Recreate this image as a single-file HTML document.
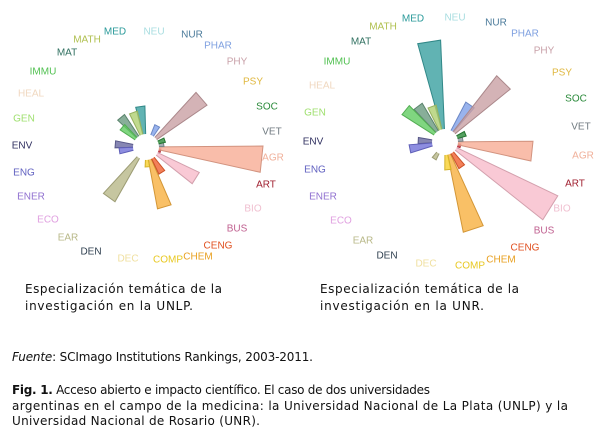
<!DOCTYPE html>
<html><head><meta charset="utf-8"><style>
body{margin:0;background:#fff;width:602px;height:430px;overflow:hidden}
svg{display:block}
.l{font-family:"Liberation Sans",sans-serif;font-size:10px;text-anchor:middle;dominant-baseline:middle}
.t{font-family:"DejaVu Sans",sans-serif;font-size:12px;fill:#111}
</style></head><body>
<svg id="s" width="602" height="430" xmlns="http://www.w3.org/2000/svg">
<g id="g"></g>
<text class="t" x="25" y="293" textLength="197">Especialización temática de la</text>
<text class="t" x="25" y="310" textLength="168">investigación en la UNLP.</text>
<text class="t" x="320" y="293" textLength="199">Especialización temática de la</text>
<text class="t" x="320" y="310" textLength="164">investigación en la UNR.</text>
<text class="t" x="12" y="361" textLength="301"><tspan font-style="italic">Fuente</tspan>: SCImago Institutions Rankings, 2003-2011.</text>
<text class="t" x="12" y="394" textLength="418"><tspan font-weight="bold">Fig. 1.</tspan> Acceso abierto e impacto científico. El caso de dos universidades</text>
<text class="t" x="12" y="410" textLength="556">argentinas en el campo de la medicina: la Universidad Nacional de La Plata (UNLP) y la</text>
<text class="t" x="12" y="425" textLength="248">Universidad Nacional de Rosario (UNR).</text>
</svg>
<script>
const C={MED:"#2a9a9a",NEU:"#a8dde0",NUR:"#4a7a9a",PHAR:"#7fa0e0",PHY:"#c8a0a8",PSY:"#e0b840",SOC:"#2a8a3a",VET:"#707a80",AGR:"#f0b09a",ART:"#a02030",BIO:"#f0c0d0",BUS:"#c06090",CENG:"#e05020",CHEM:"#e8a020",COMP:"#e8c820",DEC:"#f0e0a0",DEN:"#304050",EAR:"#b8b888",ECO:"#e0a0e0",ENER:"#9070d0",ENG:"#6060c0",ENV:"#303060",GEN:"#a0e070",HEAL:"#f0d8c0",IMMU:"#50c050",MAT:"#307060",MATH:"#b0c050"};
const BC={PHY:"#c9a0a4",AGR:"#f7ad95",BIO:"#f8bccb",COMP:"#f8b040",EAR:"#b8b888",MED:"#3aa0a0",MATH:"#b0d070",MAT:"#6a9a80",IMMU:"#60cc60",ENV:"#6868a0",ENG:"#7070d8",PHAR:"#7fa0e8",CENG:"#f06030",CHEM:"#f8d030",SOC:"#2a8a3a",VET:"#909aa0",ART:"#d03040"};
function dk(c){const n=parseInt(c.slice(1),16);const f=x=>Math.round(x*0.85);return `rgb(${f(n>>16)},${f((n>>8)&255)},${f(n&255)})`;}
const L1=[["MED",115,32],["NEU",154,32],["NUR",192,35],["PHAR",218,46],["PHY",237,62],["PSY",253,82],["SOC",267,107],["VET",272,132],["AGR",273,158],["ART",266,185],["BIO",253,209],["BUS",237,229],["CENG",218,246],["CHEM",198,257],["COMP",168,260],["DEC",128,259],["DEN",91,252],["EAR",68,238],["ECO",48,220],["ENER",31,197],["ENG",24,173],["ENV",22,146],["GEN",24,119],["HEAL",31,94],["IMMU",43,72],["MAT",67,53],["MATH",87,40]];
const L2=[["MED",413,19],["NEU",455,18],["NUR",496,23],["PHAR",525,34],["PHY",544,51],["PSY",562,73],["SOC",576,99],["VET",581,127],["AGR",583,156],["ART",575,184],["BIO",562,209],["BUS",544,231],["CENG",525,248],["CHEM",501,260],["COMP",470,266],["DEC",426,264],["DEN",387,256],["EAR",363,241],["ECO",341,221],["ENER",323,197],["ENG",315,170],["ENV",313,142],["GEN",315,113],["HEAL",322,86],["IMMU",337,62],["MAT",361,42],["MATH",383,27]];
const W1=[["MED",352,41],["MATH",340,37],["MAT",320,39],["IMMU",310,31],["ENV",275,31],["ENG",262,27],["EAR",216,63],["COMP",163,63],["CHEM",176,20],["CENG",148,30],["BIO",122,59],["ART",104,15],["AGR",96,117],["VET",82,18],["SOC",70,20],["PHAR",28,24],["PHY",49,74]];
const W2=[["MED",351,102],["MATH",340,38],["MAT",323,45],["IMMU",309,51],["ENV",273,27],["ENG",259,36],["EAR",213,20],["COMP",162,92],["CHEM",174,28],["CENG",146,30],["BIO",122,125],["ART",104,16],["AGR",96,88],["VET",81,18],["SOC",68,22],["PHAR",34,45],["PHY",44.5,84]];
const g=document.getElementById('g');let h='';
function wedges(W,cx,cy){for(const[k,a,r]of W){const ri=12,d=6.5,p=[];for(const[rr,aa]of[[ri,a-d],[r,a-d],[r,a+d],[ri,a+d]]){const t=aa*Math.PI/180;p.push((cx+rr*Math.sin(t)).toFixed(1)+','+(cy-rr*Math.cos(t)).toFixed(1));}
h+=`<polygon points="${p.join(' ')}" fill="${BC[k]}" fill-opacity="0.8" stroke="${dk(BC[k])}" stroke-width="1"/>`;}
h+=`<circle cx="${cx}" cy="${cy}" r="13" fill="#fff"/>`;}
function labels(L){for(const[k,x,y]of L)h+=`<text class="l" x="${x}" y="${y}" fill="${C[k]}">${k}</text>`;}
wedges(W1,146,147);wedges(W2,445,142);labels(L1);labels(L2);
g.innerHTML=h;
</script>
</body></html>
